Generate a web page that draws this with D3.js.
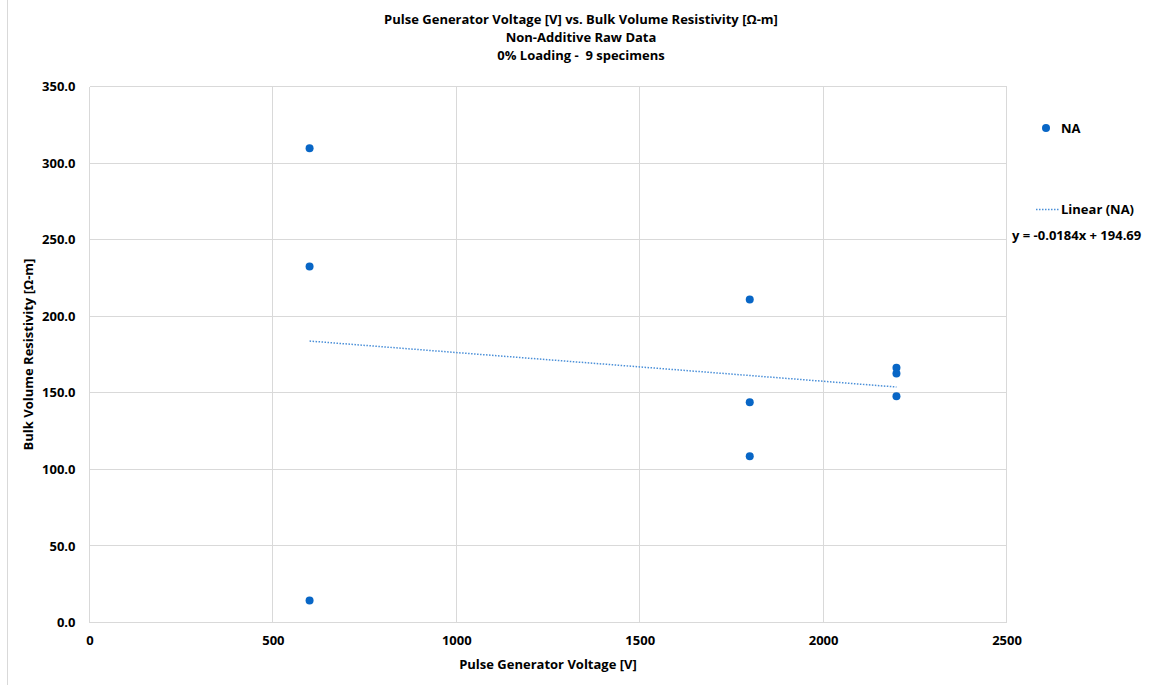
<!DOCTYPE html>
<meta charset="utf-8">
<style>
body{
    margin:0;
    background:#fff;
}
text{
    font-family:"Open Sans","Noto Sans",sans-serif;
    font-weight:bold;
    fill:#000;
    white-space:pre;
}
.grid line{
    stroke:#d9d9d9;
    stroke-width:1px;
    shape-rendering:crispEdges;
}
</style>
<body>
<script src="https://d3js.org/d3.v7.min.js"></script>
<script>
var voltage = [600, 600, 600, 1800, 1800, 1800, 2200, 2200, 2200];
var resistivity = [309.6, 232.5, 14.4, 210.9, 143.8, 108.5, 166.4, 162.6, 147.8];
var xTicks = [0, 500, 1000, 1500, 2000, 2500];
var yTicks = [0, 50, 100, 150, 200, 250, 300, 350];
var titleLines = ["Pulse Generator Voltage [V] vs. Bulk Volume Resistivity [\u03A9-m]",
                  "Non-Additive Raw Data",
                  "0% Loading -  9 specimens"];

var W = 1151, H = 685;
var plotL = 89.5, plotR = 1006.5, plotT = 86.5, plotB = 622.5;
var dotColor = "#0866c6";
var fs = "13px";

var svg = d3.select("body").append("svg").attr("width", W).attr("height", H);

// chart frame edge on left
svg.append("line").attr("x1", 7.5).attr("x2", 7.5).attr("y1", 0).attr("y2", H)
    .attr("stroke", "#d9d9d9");

var x = d3.scaleLinear().domain([0, 2500]).range([plotL, plotR]);
var y = d3.scaleLinear().domain([0, 350]).range([plotB, plotT]);

// gridlines
var grid = svg.append("g").attr("class", "grid");
grid.selectAll(".h").data(yTicks).enter().append("line")
    .attr("x1", plotL).attr("x2", plotR)
    .attr("y1", function(d){ return y(d); }).attr("y2", function(d){ return y(d); });
grid.selectAll(".v").data(xTicks).enter().append("line")
    .attr("y1", plotT).attr("y2", plotB)
    .attr("x1", function(d){ return x(d); }).attr("x2", function(d){ return x(d); });

// axes (labels only, lines come from the grid)
var xAxis = svg.append("g").attr("transform", "translate(0," + plotB + ")")
    .call(d3.axisBottom(x).tickValues(xTicks).tickSize(0).tickPadding(13).tickFormat(d3.format("d")));
xAxis.select(".domain").remove();
xAxis.selectAll("text").style("font-size", fs).style("font-family", null);

var yAxis = svg.append("g").attr("transform", "translate(" + plotL + ",0)")
    .call(d3.axisLeft(y).tickValues(yTicks).tickSize(0).tickPadding(14).tickFormat(d3.format(".1f")));
yAxis.select(".domain").remove();
yAxis.selectAll("text").style("font-size", fs).style("font-family", null);
svg.selectAll(".tick text").attr("fill", null);

// titles
svg.selectAll(".title").data(titleLines).enter().append("text")
    .attr("x", 581).attr("y", function(d, i){ return 24 + i * 18; })
    .attr("text-anchor", "middle").style("font-size", "13px")
    .text(function(d){ return d; });

svg.append("text").attr("x", (plotL + plotR) / 2).attr("y", 669)
    .attr("text-anchor", "middle").style("font-size", fs)
    .text("Pulse Generator Voltage [V]");

svg.append("text")
    .attr("transform", "translate(33," + ((plotT + plotB) / 2) + ") rotate(-90)")
    .attr("text-anchor", "middle").style("font-size", fs)
    .text("Bulk Volume Resistivity [\u03A9-m]");

// linear trend from the data
var pts = voltage.map(function(v, i){ return [v, resistivity[i]]; });
var mx = d3.mean(voltage), my = d3.mean(resistivity);
var sxy = d3.sum(pts, function(p){ return (p[0] - mx) * (p[1] - my); });
var sxx = d3.sum(pts, function(p){ return (p[0] - mx) * (p[0] - mx); });
var slope = sxy / sxx, intercept = my - slope * mx;
var ext = d3.extent(voltage);

svg.append("line")
    .attr("x1", x(ext[0])).attr("y1", y(intercept + slope * ext[0]))
    .attr("x2", x(ext[1])).attr("y2", y(intercept + slope * ext[1]))
    .attr("stroke", "#4a8fd8").attr("stroke-width", 1.5).attr("stroke-dasharray", "1.5,1.5");

// points
svg.append("g").selectAll("circle").data(pts).enter().append("circle")
    .attr("cx", function(d){ return x(d[0]); })
    .attr("cy", function(d){ return y(d[1]); })
    .attr("r", 4).attr("fill", dotColor);

// legend
svg.append("circle").attr("cx", 1046).attr("cy", 128).attr("r", 4).attr("fill", dotColor);
svg.append("text").attr("x", 1061).attr("y", 133).style("font-size", fs).text("NA");

svg.append("line").attr("x1", 1036).attr("x2", 1059).attr("y1", 209.5).attr("y2", 209.5)
    .attr("stroke", "#4a8fd8").attr("stroke-width", 1.5).attr("stroke-dasharray", "1.5,1.5");
svg.append("text").attr("x", 1061).attr("y", 214).style("font-size", fs).text("Linear (NA)");
svg.append("text").attr("x", 1012).attr("y", 240).style("font-size", fs)
    .text("y = -0.0184x + 194.69");
</script>
